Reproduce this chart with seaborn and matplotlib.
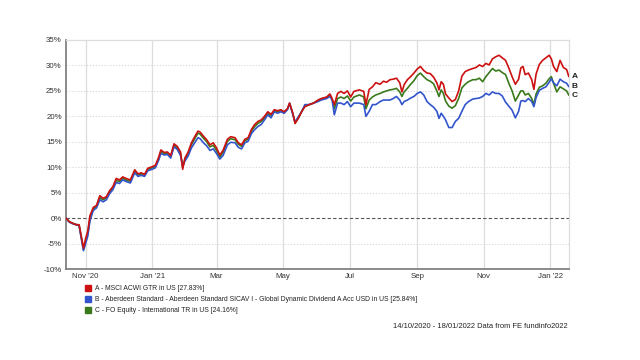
import matplotlib
matplotlib.use("Agg")
import matplotlib.pyplot as plt
from matplotlib.lines import Line2D
import pandas as pd
import seaborn as sns

dates = [
    "2020-10-14", "2020-10-17", "2020-10-20", "2020-10-23", "2020-10-26", "2020-10-28", "2020-10-30",
    "2020-11-01", "2020-11-03", "2020-11-05", "2020-11-08", "2020-11-11", "2020-11-14", "2020-11-17",
    "2020-11-20", "2020-11-23", "2020-11-26", "2020-11-29", "2020-12-02", "2020-12-05", "2020-12-08",
    "2020-12-12", "2020-12-16", "2020-12-19", "2020-12-22", "2020-12-25", "2020-12-28", "2021-01-01",
    "2021-01-04", "2021-01-07", "2021-01-09", "2021-01-12", "2021-01-15", "2021-01-18", "2021-01-21",
    "2021-01-24", "2021-01-27", "2021-01-29", "2021-01-31", "2021-02-03", "2021-02-06", "2021-02-09",
    "2021-02-12", "2021-02-14", "2021-02-17", "2021-02-20", "2021-02-23", "2021-02-26", "2021-03-01",
    "2021-03-04", "2021-03-07", "2021-03-11", "2021-03-14", "2021-03-18", "2021-03-21", "2021-03-24",
    "2021-03-27", "2021-03-30", "2021-04-02", "2021-04-05", "2021-04-08", "2021-04-11", "2021-04-14",
    "2021-04-17", "2021-04-20", "2021-04-23", "2021-04-26", "2021-04-29", "2021-05-02", "2021-05-05",
    "2021-05-07", "2021-05-10", "2021-05-12", "2021-05-15", "2021-05-18", "2021-05-21", "2021-05-24",
    "2021-05-29", "2021-06-02", "2021-06-05", "2021-06-10", "2021-06-13", "2021-06-15", "2021-06-17",
    "2021-06-20", "2021-06-23", "2021-06-26", "2021-06-29", "2021-07-02", "2021-07-05", "2021-07-10",
    "2021-07-14", "2021-07-16", "2021-07-19", "2021-07-22", "2021-07-25", "2021-07-29", "2021-08-01",
    "2021-08-04", "2021-08-07", "2021-08-10", "2021-08-13", "2021-08-16", "2021-08-18", "2021-08-20",
    "2021-08-23", "2021-08-26", "2021-08-29", "2021-09-01", "2021-09-04", "2021-09-07", "2021-09-10",
    "2021-09-13", "2021-09-16", "2021-09-19", "2021-09-21", "2021-09-23", "2021-09-25", "2021-09-27",
    "2021-09-30", "2021-10-03", "2021-10-06", "2021-10-09", "2021-10-12", "2021-10-15", "2021-10-18",
    "2021-10-22", "2021-10-25", "2021-10-28", "2021-10-31", "2021-11-03", "2021-11-06", "2021-11-09",
    "2021-11-12", "2021-11-15", "2021-11-18", "2021-11-21", "2021-11-24", "2021-11-27", "2021-11-30",
    "2021-12-03", "2021-12-05", "2021-12-07", "2021-12-09", "2021-12-12", "2021-12-15", "2021-12-17",
    "2021-12-19", "2021-12-22", "2021-12-25", "2021-12-28", "2021-12-31", "2022-01-02", "2022-01-04",
    "2022-01-07", "2022-01-10", "2022-01-13", "2022-01-16", "2022-01-18",
]

a_msci = [
    0.0, -0.7, -1.0, -1.3, -1.3, -3.5, -5.9,
    -4.0, -2.5, 0.5, 2.1, 2.5, 4.4, 3.9,
    4.2, 5.4, 6.2, 7.8, 7.5, 8.1, 7.8,
    7.5, 9.5, 8.7, 8.9, 8.6, 9.8, 10.1,
    10.4, 12.0, 13.4, 12.9, 13.0, 12.3, 14.6,
    14.1, 13.0, 9.6, 11.8, 13.0, 14.8, 16.0,
    17.1, 16.9, 16.1, 15.4, 14.4, 14.8, 13.8,
    12.4, 13.3, 15.5, 16.0, 15.8, 14.8, 14.4,
    15.5, 15.8, 17.4, 18.4, 19.0, 19.3, 20.0,
    20.9, 20.4, 21.3, 21.1, 21.3, 20.9, 21.5,
    22.6, 20.6, 18.6, 19.6, 20.9, 21.9, 22.2,
    22.6, 23.2, 23.5, 23.8, 24.4, 23.5, 22.3,
    24.5, 24.9, 24.5, 25.0, 23.8, 24.9, 25.2,
    24.9, 22.3, 25.3, 25.8, 26.6, 26.3, 26.9,
    26.7, 27.2, 27.3, 27.5, 26.6, 24.8, 26.2,
    27.2, 27.8, 28.5, 29.3, 29.8, 29.0, 28.5,
    28.4, 27.7, 26.6, 25.2, 26.8, 26.3, 24.4,
    23.6, 22.9, 23.3, 25.0, 27.9, 28.8, 29.1,
    29.4, 29.6, 30.1, 29.8, 30.4, 30.1, 31.3,
    31.7, 32.0, 31.5, 31.0, 29.5, 27.8, 26.3,
    27.3, 29.5, 29.8, 28.2, 28.5, 27.2, 25.3,
    28.3, 30.2, 31.0, 31.5, 32.0, 31.3, 29.8,
    28.8, 31.0, 29.6, 29.2, 27.83,
]

b_aberdeen = [
    0.0, -0.8, -1.1, -1.3, -1.5, -4.0, -6.4,
    -5.0, -3.5, -0.5, 1.5, 2.0, 3.6, 3.2,
    3.6, 4.8, 5.6, 7.0, 6.8, 7.5, 7.2,
    6.9, 8.9, 8.2, 8.4, 8.2, 9.3, 9.6,
    9.9, 11.4, 12.7, 12.4, 12.5, 11.8, 14.0,
    13.5, 12.3, 10.2, 11.2, 12.2, 13.8, 14.8,
    15.8, 15.6, 14.8, 14.2, 13.3, 13.6, 12.7,
    11.6, 12.3, 14.4, 14.9, 14.8, 13.9, 13.6,
    14.8, 15.1, 16.6, 17.4, 18.0, 18.4, 19.3,
    20.3, 19.7, 20.9, 20.6, 20.9, 20.6, 21.3,
    22.6, 20.3, 18.9, 19.9, 20.9, 22.3, 22.3,
    22.6, 22.9, 23.2, 23.5, 23.9, 23.2, 20.3,
    22.6, 22.6, 22.3, 22.9, 21.9, 22.6, 22.6,
    22.3, 20.0, 21.0, 22.3, 22.3, 22.9, 23.2,
    23.2, 23.2, 23.5, 23.9, 23.2, 22.3, 22.9,
    23.2, 23.6, 23.9, 24.5, 24.8, 24.2, 22.9,
    22.3, 21.8, 21.0, 19.6, 20.6, 20.0, 19.3,
    17.8, 17.8, 19.0, 19.6, 21.0, 22.3, 22.9,
    23.4, 23.5, 23.6, 23.9, 24.5, 24.2, 24.8,
    24.5, 24.5, 24.0, 22.8, 22.0, 21.2, 19.7,
    21.0, 23.0, 23.1, 22.9, 23.5, 22.9, 21.9,
    23.7, 25.1, 25.5, 25.8, 26.7, 27.4, 26.6,
    26.0, 27.3, 26.8, 26.5, 25.84,
]

c_fo_equity = [
    0.0, -0.7, -1.0, -1.2, -1.4, -3.8, -6.2,
    -4.6, -3.0, 0.0, 1.8, 2.3, 4.0, 3.6,
    4.0, 5.1, 5.9, 7.4, 7.2, 7.8, 7.5,
    7.2, 9.2, 8.5, 8.7, 8.4, 9.6, 9.9,
    10.2, 11.7, 13.1, 12.7, 12.8, 12.1, 14.3,
    13.8, 12.7, 10.0, 11.5, 12.7, 14.4, 15.6,
    16.7, 16.5, 15.7, 15.0, 14.0, 14.3, 13.3,
    12.0, 12.9, 15.1, 15.6, 15.4, 14.5, 14.1,
    15.2, 15.5, 17.1, 18.0, 18.6, 19.0, 19.7,
    20.6, 20.1, 21.1, 20.9, 21.1, 20.8, 21.4,
    22.5, 20.5, 18.7, 19.7, 20.9, 22.0, 22.2,
    22.6, 23.1, 23.4, 23.7, 24.2, 23.3, 21.5,
    23.5, 23.8, 23.5, 24.0, 23.0, 23.8, 24.2,
    23.8, 21.5, 23.2, 23.8, 24.2, 24.5, 24.8,
    25.0, 25.2, 25.3, 25.5, 24.8, 23.9, 24.8,
    25.5, 26.3, 27.0, 28.0, 28.5, 27.8, 27.2,
    26.9, 26.4, 25.0, 23.9, 25.2, 24.5, 23.0,
    22.0, 21.6, 22.1, 23.5, 25.6, 26.3, 26.8,
    27.2, 27.2, 27.5, 26.8, 27.8, 28.6, 29.4,
    28.9, 29.1, 28.6, 28.2, 26.5, 25.0, 23.0,
    24.2, 25.0, 25.0, 24.2, 24.5, 23.5, 22.3,
    24.4, 25.7, 26.0, 26.5, 27.4, 27.8, 26.5,
    24.8, 25.8, 25.4, 25.0, 24.16,
]

series_names = [
    "A - MSCI ACWI GTR in US [27.83%]",
    "B - Aberdeen Standard - Aberdeen Standard SICAV I - Global Dynamic Dividend A Acc USD in US [25.84%]",
    "C - FO Equity - International TR in US [24.16%]",
]
end_labels = ["A", "B", "C"]
series_colors = ["#cc1111", "#3355cc", "#3a7a1c"]
x_tick_dates = ["2020-11-01", "2021-01-01", "2021-03-01", "2021-05-01",
                "2021-07-01", "2021-09-01", "2021-11-01", "2022-01-01"]
x_tick_labels = ["Nov '20", "Jan '21", "Mar", "May", "Jul", "Sep", "Nov", "Jan '22"]
y_ticks = [-10, -5, 0, 5, 10, 15, 20, 25, 30, 35]
footer = "14/10/2020 - 18/01/2022 Data from FE fundinfo2022"

sns.set_theme(style="white")
plt.rcParams["font.family"] = ["Liberation Sans", "DejaVu Sans"]

dt = pd.to_datetime(dates)
frames = []
for name, vals in zip(series_names, [a_msci, b_aberdeen, c_fo_equity]):
    frames.append(pd.DataFrame({"date": dt, "value": vals, "series": name}))
df = pd.concat(frames, ignore_index=True)

fig = plt.figure(figsize=(6.4, 3.6), dpi=100)
ax = fig.add_axes([66 / 640, 1 - 269 / 360, (568.8 - 66) / 640, (269 - 40) / 360])

# grid
tick_dt = pd.to_datetime(x_tick_dates)
for t in tick_dt:
    ax.axvline(t, color="#dddddd", lw=0.9, zorder=0)
for y in y_ticks:
    if y != 0:
        ax.axhline(y, color="#d0d0d0", lw=0.6, ls=(0, (1.5, 2)), zorder=0)
ax.axhline(0, color="#555555", lw=0.8, ls=(0, (3, 2)), zorder=1)

draw_order = [2, 1, 0]
palette = {series_names[i]: series_colors[i] for i in range(3)}
sns.lineplot(data=df, x="date", y="value", hue="series",
             hue_order=[series_names[i] for i in draw_order],
             palette=palette, lw=1.2, legend=False, ax=ax, zorder=3)

ax.set_xlim(pd.Timestamp("2020-10-14"), pd.Timestamp("2022-01-18"))
ax.set_ylim(-10, 35)
ax.set_yticks(y_ticks)
ax.set_yticklabels([f"{v}%" for v in y_ticks])
ax.set_xticks(tick_dt)
ax.set_xticklabels(x_tick_labels)
ax.tick_params(axis="both", length=0, labelsize=5.7, colors="#333333", pad=3)
ax.set_xlabel("")
ax.set_ylabel("")

for s in ["top", "right"]:
    ax.spines[s].set_color("#dddddd")
    ax.spines[s].set_linewidth(0.9)
for s in ["left", "bottom"]:
    ax.spines[s].set_color("#777777")
    ax.spines[s].set_linewidth(1.2)

# end labels
end_vals = [a_msci[-1], b_aberdeen[-1], c_fo_equity[-1]]
for lab, v in zip(end_labels, end_vals):
    ax.annotate(lab, xy=(dt[-1], v), xytext=(2, 0), textcoords="offset points",
                ha="left", va="center", fontsize=6, fontweight="bold", color="#222222",
                annotation_clip=False)

handles = [Line2D([0], [0], marker="s", color="none", markerfacecolor=c,
                  markeredgecolor=c, markersize=4) for c in series_colors]
fig.legend(handles, series_names, loc="upper left", bbox_to_anchor=(85 / 640, 1 - 285 / 360),
           frameon=False, fontsize=4.9, handlelength=0.9, handletextpad=0.6,
           labelspacing=0.6, borderpad=0, borderaxespad=0, labelcolor="#222222")

fig.text(568 / 640, 1 - 327 / 360, footer, ha="right", va="center", fontsize=5.4, color="#222222")

fig.savefig("out.png", dpi=100)
